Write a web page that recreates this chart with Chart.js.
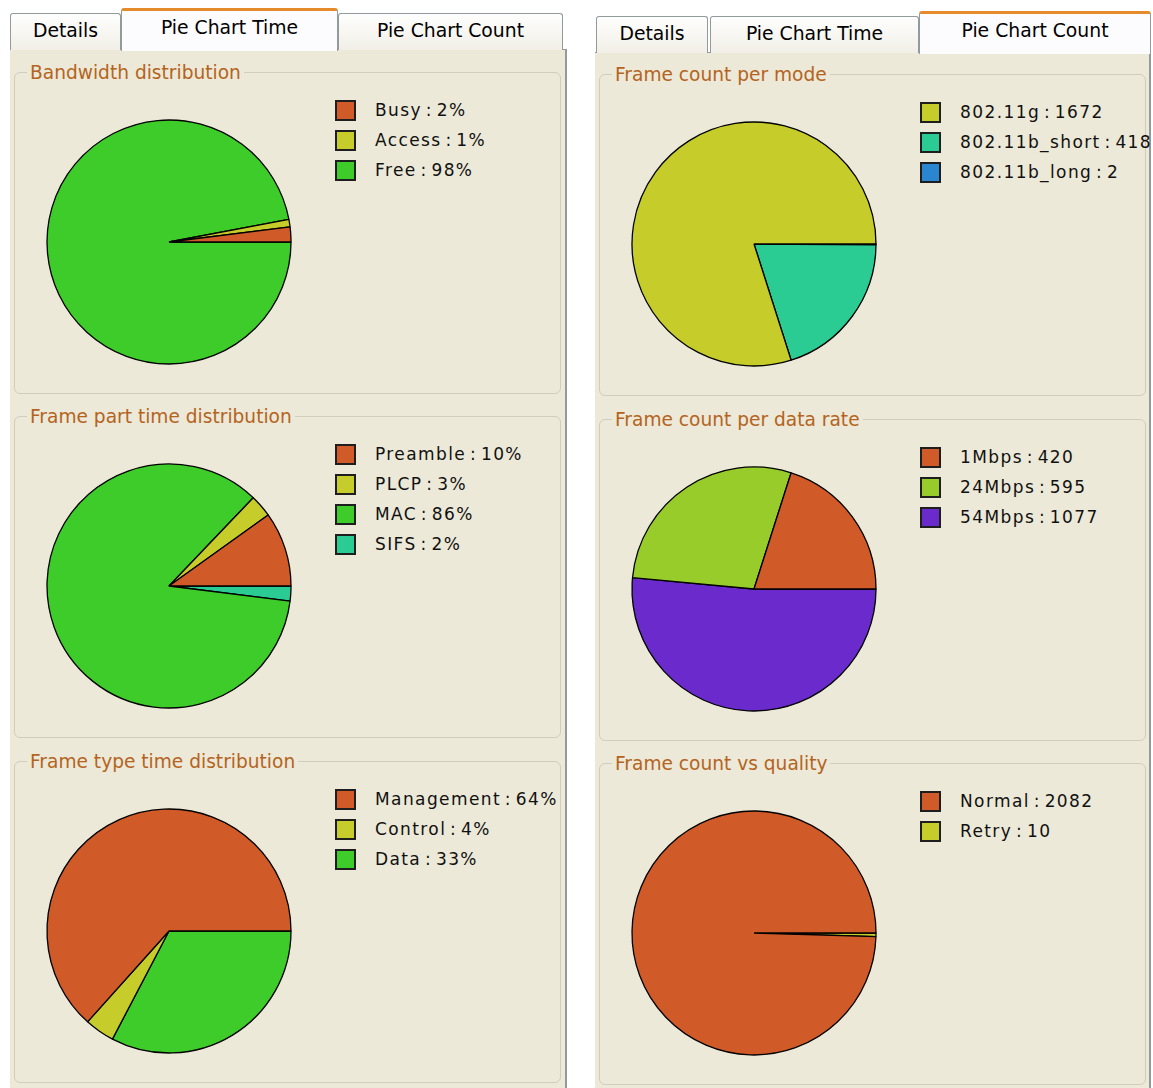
<!DOCTYPE html>
<html>
<head>
<meta charset="utf-8">
<script src="https://cdn.jsdelivr.net/npm/chart.js@4.4.1/dist/chart.umd.min.js"></script>
<style>
  html, body { margin: 0; padding: 0; background: #ffffff; }
  body { width: 1153px; height: 1088px; position: relative; overflow: hidden;
         font-family: "DejaVu Sans", Verdana, sans-serif; }
  .panel { position: absolute; background: #ECE9D8; }
  .tab { position: absolute; box-sizing: border-box; border: 1px solid #919B9C; border-bottom: none;
         border-radius: 3px 3px 0 0; background: linear-gradient(#FEFEFE, #F1EFE6);
         font-size: 18.8px; color: #000; text-align: center; white-space: nowrap; }
  .tab.sel { background: #FCFCFE; border-top: 3px solid #E68B2C; z-index: 2; }
  .group { position: absolute; box-sizing: border-box; border: 1px solid #D0CDBC; border-radius: 6px; }
  .gtitle { position: absolute; background: #ECE9D8; color: #B4641E; font-size: 18.6px;
            padding: 0 3px; white-space: nowrap; line-height: 22px; }
  .lg-box { position: absolute; width: 21px; height: 21px; box-sizing: border-box; border: 2px solid #1E1E1E; }
  .lg-text { position: absolute; font-size: 17px; letter-spacing: 1.4px; word-spacing: -3px;
             color: #111; white-space: nowrap; line-height: 22px; }
  canvas { position: absolute; }
</style>
</head>
<body>
<script>
// ---- Pie Chart Time data (percent of time) ----
const bandwidthLabels = ['Busy', 'Access', 'Free'];
const bandwidthValues = [2, 1, 98];
const framePartLabels = ['Preamble', 'PLCP', 'MAC', 'SIFS'];
const framePartValues = [10, 3, 86, 2];
const frameTypeLabels = ['Management', 'Control', 'Data'];
const frameTypeValues = [64, 4, 33];

// ---- Pie Chart Count data (number of frames) ----
const modeLabels = ['802.11g', '802.11b_short', '802.11b_long'];
const modeValues = [1672, 418, 2];
const rateLabels = ['1Mbps', '24Mbps', '54Mbps'];
const rateValues = [420, 595, 1077];
const qualityLabels = ['Normal', 'Retry'];
const qualityValues = [2082, 10];

// ---- slice palettes ----
const ORANGE = '#D05A28', YELLOW = '#C6CC2A', GREEN = '#3ECC2A', TEAL = '#2ACC94',
      BLUE = '#2A86D0', LIME = '#98CC2A', PURPLE = '#6A2ACC';

const body = document.body;
function el(tag, cls, style, text) {
  const e = document.createElement(tag);
  if (cls) e.className = cls;
  Object.assign(e.style, style || {});
  if (text !== undefined) e.textContent = text;
  body.appendChild(e);
  return e;
}

// tab strip + page panel
function tabPanel(x, w, tabs, selIndex, tabTop) {
  el('div', 'panel', { left: x + 'px', top: (tabTop + 36) + 'px', width: w + 'px', height: (1088 - tabTop - 36) + 'px',
                       borderTop: '1px solid #919B9C', borderRight: '2px solid #919B9C', boxSizing: 'border-box' });
  tabs.forEach((t, i) => {
    const sel = i === selIndex;
    el('div', 'tab' + (sel ? ' sel' : ''), {
      left: t.x + 'px', top: (sel ? tabTop - 5 : tabTop) + 'px', width: t.w + 'px',
      height: (sel ? 43 : 37) + 'px', lineHeight: '34px',
      background: sel ? '#FCFCFE' : undefined
    }, t.label);
  });
}
tabPanel(10, 557, [
  { label: 'Details', x: 10, w: 111 },
  { label: 'Pie Chart Time', x: 121, w: 217 },
  { label: 'Pie Chart Count', x: 338, w: 225 }
], 1, 13);
tabPanel(595, 556, [
  { label: 'Details', x: 596, w: 112 },
  { label: 'Pie Chart Time', x: 710, w: 209 },
  { label: 'Pie Chart Count', x: 919, w: 232 }
], 2, 16);

// one group box with a pie and its legend
function pieGroup(left, top, title, labels, values, colors, suffix) {
  el('div', 'group', { left: left + 'px', top: top + 'px', width: '547px', height: '322px' });
  el('div', 'gtitle', { left: (left + 13) + 'px', top: (top - 10) + 'px' }, title);

  labels.forEach((lab, i) => {
    const cy = top + 38 + i * 30;
    el('div', 'lg-box', { left: (left + 321) + 'px', top: (cy - 10) + 'px', background: colors[i] });
    el('div', 'lg-text', { left: (left + 361) + 'px', top: (cy - 11) + 'px' }, lab + ' : ' + values[i] + suffix);
  });

  const cv = document.createElement('canvas');
  cv.width = 250; cv.height = 250;
  cv.style.left = (left + 155 - 125) + 'px';
  cv.style.top = (top + 170 - 125) + 'px';
  body.appendChild(cv);

  // slices run counter-clockwise from 3 o'clock: feed them reversed, clockwise
  new Chart(cv, {
    type: 'pie',
    data: {
      labels: labels.slice().reverse(),
      datasets: [{
        data: values.slice().reverse(),
        backgroundColor: colors.slice().reverse(),
        borderColor: '#000000',
        borderWidth: 1.3
      }]
    },
    options: {
      responsive: false,
      animation: false,
      rotation: 90,
      radius: 122,
      layout: { padding: 0 },
      plugins: { legend: { display: false }, tooltip: { enabled: false } },
      events: []
    }
  });
}

pieGroup(14, 72, 'Bandwidth distribution', bandwidthLabels, bandwidthValues, [ORANGE, YELLOW, GREEN], '%');
pieGroup(14, 416, 'Frame part time distribution', framePartLabels, framePartValues, [ORANGE, YELLOW, GREEN, TEAL], '%');
pieGroup(14, 761, 'Frame type time distribution', frameTypeLabels, frameTypeValues, [ORANGE, YELLOW, GREEN], '%');

pieGroup(599, 74, 'Frame count per mode', modeLabels, modeValues, [YELLOW, TEAL, BLUE], '');
pieGroup(599, 419, 'Frame count per data rate', rateLabels, rateValues, [ORANGE, LIME, PURPLE], '');
pieGroup(599, 763, 'Frame count vs quality', qualityLabels, qualityValues, [ORANGE, YELLOW], '');
</script>
</body>
</html>
